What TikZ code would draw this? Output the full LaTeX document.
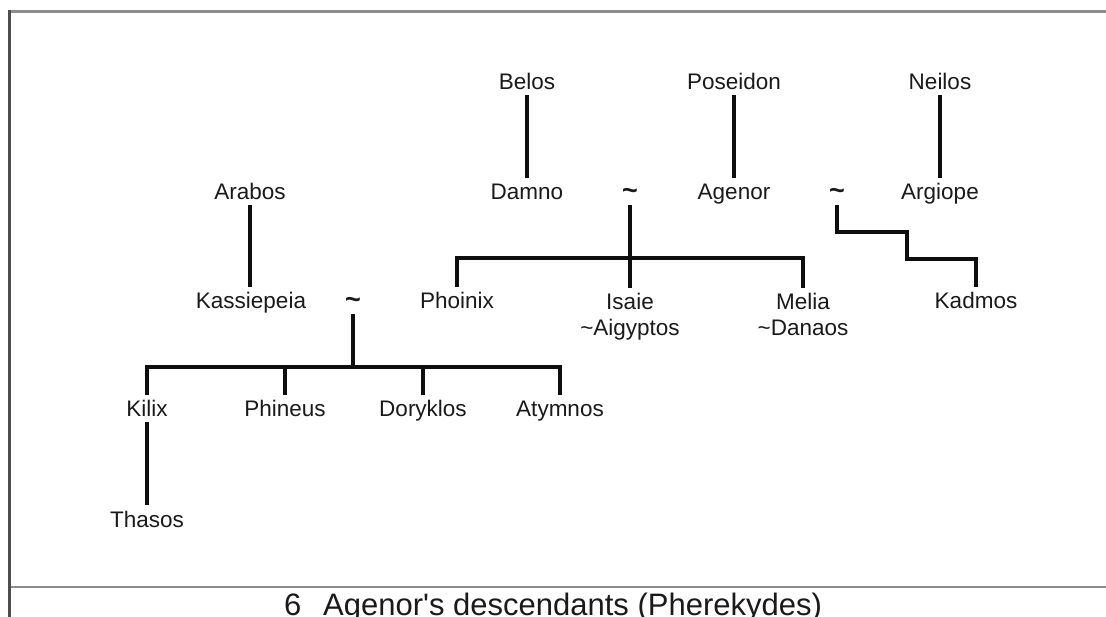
\documentclass[tikz,border=0pt]{standalone}
\usepackage{fontspec}
\setmainfont{Liberation Sans}
\definecolor{inkc}{HTML}{1A1A1A}
\definecolor{linec}{HTML}{0E0E0E}
\definecolor{framegray}{HTML}{8C8C8C}
\definecolor{framedark}{HTML}{4D4D4D}
\begin{document}
\begin{tikzpicture}[x=1pt,y=-1pt,
  person/.style={font=\fontsize{22.5}{26}\selectfont, text=inkc, inner sep=5pt,
                 text height=16.4pt, text depth=0pt, anchor=base},
  wed/.style={person, font=\fontsize{27}{30}\selectfont\bfseries},
  couple/.style={font=\fontsize{22.5}{26}\selectfont, text=inkc, inner sep=5pt,
                 align=center, anchor=north},
  kin/.style={line width=3.2pt, draw=linec, line join=miter},
  frameline/.style={line width=2.5pt},
  caption/.style={font=\fontsize{31}{34}\selectfont, text=inkc, inner sep=0pt, anchor=base}]
\useasboundingbox (0,0) rectangle (1106,617);
\fill[white] (0,0) rectangle (1106,617);

% frame
\draw[frameline, draw=framegray] (8,11.5) -- (1106,11.5);
\draw[frameline, draw=framegray] (8,587) -- (1106,587);
\draw[frameline, draw=framedark] (9.5,10) -- (9.5,617);

% generation 1
\node[person] (belos)    at (527,90) {Belos};
\node[person] (poseidon) at (734,90) {Poseidon};
\node[person] (neilos)   at (940,90) {Neilos};

% generation 2
\node[person] (arabos)  at (250,200) {Arabos};
\node[person] (damno)   at (527,200) {Damno};
\node[wed]    (t1)      at (630,200) {\textasciitilde};
\node[person] (agenor)  at (734,200) {Agenor};
\node[wed]    (t2)      at (837,200) {\textasciitilde};
\node[person] (argiope) at (940,200) {Argiope};

% generation 3
\node[person] (kassiepeia) at (251,309) {Kassiepeia};
\node[wed]    (t3)         at (353,309) {\textasciitilde};
\node[person] (phoinix)    at (457,309) {Phoinix};
\node[couple] (isaie)      at (630,287.6) {Isaie\\\textasciitilde Aigyptos};
\node[couple] (melia)      at (803,287.6) {Melia\\\textasciitilde Danaos};
\node[person] (kadmos)     at (976,309) {Kadmos};

% generation 4
\node[person] (kilix)    at (147,417) {Kilix};
\node[person] (phineus)  at (285,417) {Phineus};
\node[person] (doryklos) at (423,417) {Doryklos};
\node[person] (atymnos)  at (560,417) {Atymnos};

% generation 5
\node[person] (thasos) at (147,527) {Thasos};

% bars and steps
\coordinate (bar1) at (0,258);
\coordinate (bar3) at (0,367);
\coordinate (s1) at (907,232);
\coordinate (s2) at (907,259);

% parent lines
\draw[kin] (belos.south) -- (belos.south |- damno.north);
\draw[kin] (poseidon.south) -- (poseidon.south |- agenor.north);
\draw[kin] (neilos.south) -- (neilos.south |- argiope.north);
\draw[kin] (arabos.south) -- (arabos.south |- kassiepeia.north);
\draw[kin] (kilix.south) -- (kilix.south |- thasos.north);

% children of Damno ~ Agenor
\draw[kin] (t1.south) -- (t1.south |- isaie.north);
\draw[kin] (phoinix.north) -- (phoinix.north |- bar1) -- (melia.north |- bar1) -- (melia.north);

% child of Agenor ~ Argiope
\draw[kin] (t2.south) -- (t2.south |- s1) -- (s1) -- (s2) -- (kadmos.north |- s2) -- (kadmos.north);

% children of Kassiepeia
\draw[kin] (t3.south) -- (t3.south |- bar3);
\draw[kin] (kilix.north) -- (kilix.north |- bar3) -- (atymnos.north |- bar3) -- (atymnos.north);
\draw[kin] (phineus.north) -- (phineus.north |- bar3);
\draw[kin] (doryklos.north) -- (doryklos.north |- bar3);

% caption
\node[caption] (cap) at (553,615) {6\hspace{22pt}Agenor\textquotesingle s descendants (Pherekydes)};
\end{tikzpicture}
\end{document}
